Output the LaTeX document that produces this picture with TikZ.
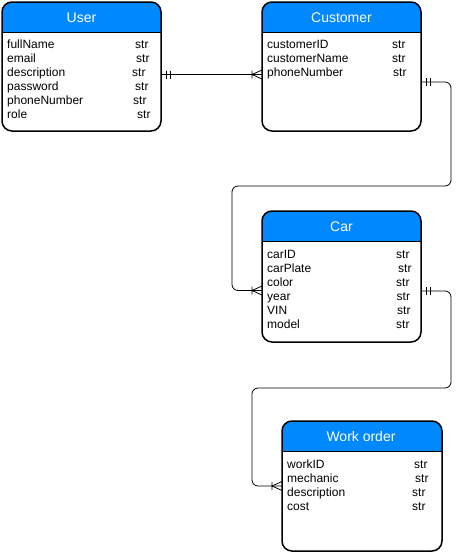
\documentclass[tikz,border=0pt]{standalone}
\usepackage{fontspec}
\setmainfont{Liberation Sans}
\definecolor{headblue}{HTML}{0088FF}
\tikzset{
	entity/.style={inner sep=0pt,outer sep=0pt},
	title/.style={text=white,font=\fontsize{14}{16}\selectfont,anchor=base,inner sep=0pt},
	attr/.style={font=\fontsize{12}{14}\selectfont,anchor=base west,inner sep=0pt},
	link/.style={line width=0.8pt,rounded corners=6pt},
	onebar/.pic={\draw [line width=0.8pt] (5,-4)--(5,4) (9,-4)--(9,4);},
	crowfoot/.pic={\draw [line width=0.8pt] (10,-4)--(10,4) (0,-4.5)--(10,0)--(0,4.5);}
}
\begin{document}
\begin{tikzpicture}[x=1pt,y=-1pt]
		\useasboundingbox (0,0) rectangle (461,552);
		% tables
		\node [entity,minimum width=159pt,minimum height=129pt] (user) at (81.5,66.5) {};
		\node [entity,minimum width=159pt,minimum height=129pt] (customer) at (341.5,66.5) {};
		\node [entity,minimum width=159pt,minimum height=131pt] (car) at (341.5,276.5) {};
		\node [entity,minimum width=160pt,minimum height=130pt] (work) at (362,486) {};
		\foreach \n in {user,customer,car,work}{
		\begin{scope}
		\clip [rounded corners=10pt] (\n.north west) rectangle (\n.south east);
		\fill [headblue] (\n.north west) rectangle ([yshift=-30.5pt]\n.north east);
		\end{scope}
		\draw [line width=1pt] ([yshift=-30.5pt]\n.north west)--([yshift=-30.5pt]\n.north east);
		\draw [line width=1.5pt,rounded corners=10pt] (\n.north west) rectangle (\n.south east);
		}
		\node [title] (user-title) at (81.5,22) {User};
		\node [title] (customer-title) at (341.5,22) {Customer};
		\node [title] (car-title) at (341.5,231.7) {Car};
		\node [title] (work-title) at (361,441.7) {Work order};
		% attributes
		\foreach \t/\s [count=\i] in {fullName/135,email/136,description/132,password/135,phoneNumber/133,role/137}{
		\node [attr] (user-a\i) at (7,34.5+14*\i) {\t};
		\node [attr] (user-s\i) at (\s,34.5+14*\i) {str};
		}
		\foreach \t/\s [count=\i] in {customerID/392,customerName/392,phoneNumber/393}{
		\node [attr] (customer-a\i) at (267,34.5+14*\i) {\t};
		\node [attr] (customer-s\i) at (\s,34.5+14*\i) {str};
		}
		\foreach \t/\s [count=\i] in {carID/396,carPlate/398,color/396,year/396.5,VIN/397,model/396}{
		\node [attr] (car-a\i) at (267,244.8+14*\i) {\t};
		\node [attr] (car-s\i) at (\s,244.8+14*\i) {str};
		}
		\foreach \t/\s [count=\i] in {workID/414,mechanic/415,description/412,cost/412}{
		\node [attr] (work-a\i) at (287,454.6+14*\i) {\t};
		\node [attr] (work-s\i) at (\s,454.6+14*\i) {str};
		}
		% relations
		\coordinate (user-out) at (user.east |- 0,74.5);
		\coordinate (customer-in) at (customer.west |- 0,74.5);
		\coordinate (customer-out) at (customer.east |- 0,82);
		\coordinate (car-in) at (car.west |- 0,290.5);
		\coordinate (car-out) at (car.east |- 0,291);
		\coordinate (work-in) at (work.west |- 0,486);
		\draw [link] (user-out)--(customer-in);
		\draw [link] (customer-out)-|(451,186)-|(232,290.5)--(car-in);
		\draw [link] (car-out)-|(451,388)-|(252,486)--(work-in);
		\pic at (user-out) {onebar};
		\pic at (customer-out) {onebar};
		\pic at (car-out) {onebar};
		\pic [rotate=180] at (customer-in) {crowfoot};
		\pic [rotate=180] at (car-in) {crowfoot};
		\pic [rotate=180] at (work-in) {crowfoot};
		\end{tikzpicture}
\end{document}
